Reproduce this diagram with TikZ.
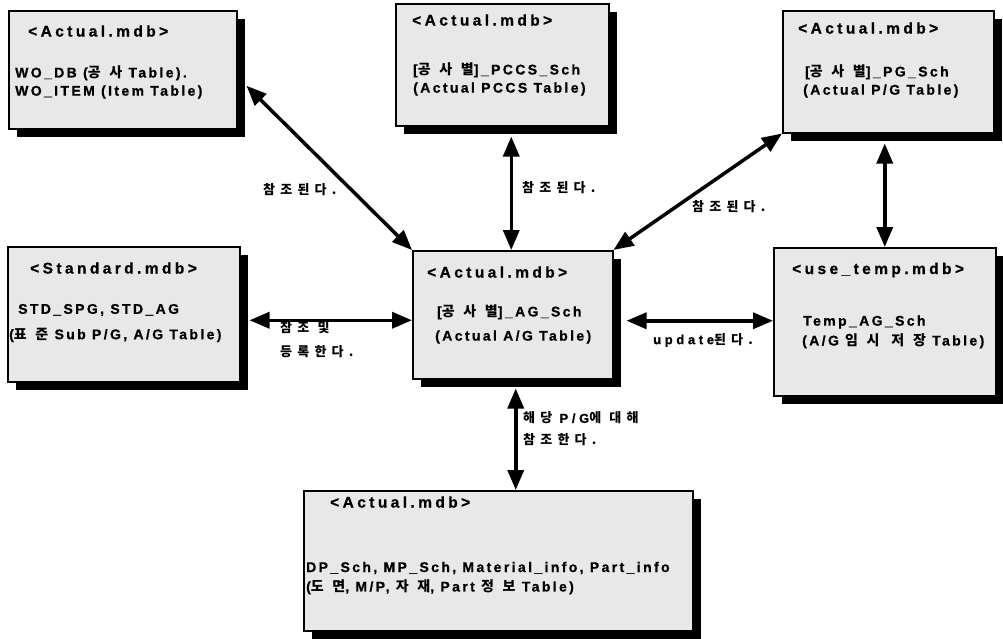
\documentclass[tikz,border=0pt]{standalone}
\usepackage{fontspec}
\usetikzlibrary{arrows.meta,shadows,calc}
\setmainfont{Liberation Sans}
\newfontfamily\latT{Liberation Sans}[LetterSpace=22,FakeBold=0.8]
\newfontfamily\latB{Liberation Sans}[LetterSpace=17,FakeBold=0.8]
\newfontfamily\latL{Liberation Sans}[LetterSpace=28,FakeBold=0.8]
\newfontfamily\krB{Noto Sans CJK KR}[LetterSpace=62]
\newfontfamily\krL{Noto Sans CJK KR}[LetterSpace=40]
\newcommand\KB[1]{{\krB #1}}
\newcommand\KL[1]{{\krL #1}}
\tikzset{
  dbbox/.style={draw=black, line width=1.5pt, fill=black!9, anchor=north west, inner sep=0pt,
    drop shadow={fill=black, opacity=1, shadow xshift=8pt, shadow yshift=-8pt}},
  ttl/.style={anchor=west, inner sep=0pt, font=\latT\bfseries\fontsize{15.5}{18}\selectfont},
  bdy/.style={anchor=west, inner sep=0pt, font=\latB\bfseries\fontsize{14}{17}\selectfont},
  lbl/.style={anchor=west, inner sep=0pt, font=\latL\bfseries\fontsize{13}{15}\selectfont},
  dbl/.style={line width=3.5pt, {Triangle[length=20pt,width=16pt]}-{Triangle[length=20pt,width=16pt]}},
}
\begin{document}
\begin{tikzpicture}[x=1pt,y=-1pt]
\useasboundingbox[fill=white] (0,0) rectangle (1003,638);
% boxes
\node[dbbox, minimum width=228pt, minimum height=118pt] (b1) at (8,10) {};
\node[dbbox, minimum width=213pt, minimum height=122pt] (b2) at (395,3) {};
\node[dbbox, minimum width=211pt, minimum height=122pt] (b3) at (782,10) {};
\node[dbbox, minimum width=232pt, minimum height=135pt] (s) at (7,246) {};
\node[dbbox, minimum width=200pt, minimum height=128pt] (c) at (412,250) {};
\node[dbbox, minimum width=222pt, minimum height=148pt] (u) at (773,247) {};
\node[dbbox, minimum width=389pt, minimum height=140pt] (bb) at (303,490) {};
% texts
\node[ttl] (b1t) at (28,31) {<Actual.mdb>};
\node[bdy] (b1a) at (15,73) {WO\_DB (\KB{공사} Table).};
\node[bdy] (b1b) at (15,92) {WO\_ITEM (Item Table)};
\node[ttl] (b2t) at (412,20) {<Actual.mdb>};
\node[bdy] (b2a) at (413,70) {[\KB{공사별}]\_PCCS\_Sch};
\node[bdy] (b2b) at (413,89) {(Actual PCCS Table)};
\node[ttl] (b3t) at (798,28) {<Actual.mdb>};
\node[bdy] (b3a) at (805,72) {[\KB{공사별}]\_PG\_Sch};
\node[bdy] (b3b) at (803,91) {(Actual P/G Table)};
\node[ttl] (st) at (30,268) {<Standard.mdb>};
\node[bdy] (sa) at (18,310) {STD\_SPG, STD\_AG};
\node[bdy] (sb) at (9,335) {(\KB{표준} Sub P/G, A/G Table)};
\node[ttl] (ct) at (427,272) {<Actual.mdb>};
\node[bdy] (ca) at (437,312) {[\KB{공사별}]\_AG\_Sch};
\node[bdy] (cb) at (435,337) {(Actual A/G Table)};
\node[ttl] (ut) at (792,270) {<use\_temp.mdb>};
\node[bdy] (ua) at (803,322) {Temp\_AG\_Sch};
\node[bdy] (ub) at (802,341) {(A/G \KB{임시 저장} Table)};
\node[ttl] (bbt) at (330,502) {<Actual.mdb>};
\node[bdy] (bba) at (306,568) {DP\_Sch, MP\_Sch, Material\_info, Part\_info};
\node[bdy] (bbb) at (306,587) {(\KB{도면}, M/P, \KB{자재}, Part \KB{정보} Table)};
% connectors
\coordinate (p1) at ($(b1.east)+(9,16)$);
\draw[dbl] (p1) -- (c.north west);
\coordinate (p2) at ($(b2.south)+(9,10)$);
\draw[dbl] (p2) -- (p2 |- c.north);
\draw[dbl] (b3.south west) -- (c.north east);
\coordinate (p3) at ($(b3.south)+(-3.5,10)$);
\draw[dbl] (p3) -- (p3 |- u.north);
\coordinate (p4) at ($(s.east)+(9,6)$);
\draw[dbl] (p4) -- (p4 -| c.west);
\coordinate (p5) at ($(c.east)+(13,6)$);
\draw[dbl] (p5) -- (p5 -| u.west);
\coordinate (p6) at ($(c.south)+(3,9)$);
\draw[dbl] (p6) -- (p6 |- bb.north);
% labels
\node[lbl] (l1) at (263,190) {\KL{참조된다.}};
\node[lbl] (l2) at (522,188) {\KL{참조된다.}};
\node[lbl] (l3) at (692,207) {\KL{참조된다.}};
\node[lbl] (l4a) at (280,328) {\KL{참조 및}};
\node[lbl] (l4b) at (280,352) {\KL{등록한다.}};
\node[lbl] (l5) at (653,340) {update\KL{된다.}};
\node[lbl] (l6a) at (523,418) {\KL{해당} P/G\KL{에 대해}};
\node[lbl] (l6b) at (523,440) {\KL{참조한다.}};
\end{tikzpicture}
\end{document}
